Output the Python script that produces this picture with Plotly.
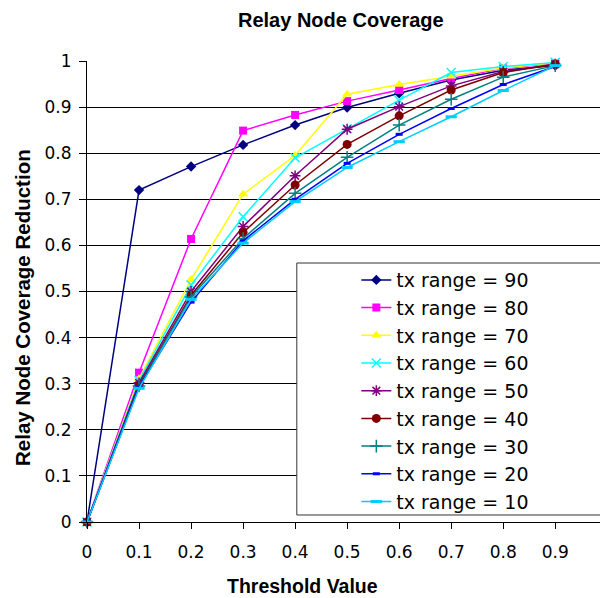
import plotly.graph_objects as go

thresholds = [0, 0.1, 0.2, 0.3, 0.4, 0.5, 0.6, 0.7, 0.8, 0.9]
x_tick_labels = ["0", "0.1", "0.2", "0.3", "0.4", "0.5", "0.6", "0.7", "0.8", "0.9"]
y_tick_vals = [0, 0.1, 0.2, 0.3, 0.4, 0.5, 0.6, 0.7, 0.8, 0.9, 1.0]
y_tick_labels = ["0", "0.1", "0.2", "0.3", "0.4", "0.5", "0.6", "0.7", "0.8", "0.9", "1"]

series_names = ["tx range = 90", "tx range = 80", "tx range = 70", "tx range = 60",
                "tx range = 50", "tx range = 40", "tx range = 30", "tx range = 20",
                "tx range = 10"]

tx90 = [0, 0.720, 0.771, 0.818, 0.861, 0.899, 0.930, 0.959, 0.980, 0.990]
tx80 = [0, 0.324, 0.614, 0.849, 0.883, 0.913, 0.937, 0.962, 0.984, 0.995]
tx70 = [0, 0.311, 0.526, 0.711, 0.795, 0.928, 0.949, 0.967, 0.985, 0.996]
tx60 = [0, 0.307, 0.514, 0.662, 0.790, 0.853, 0.915, 0.975, 0.988, 0.997]
tx50 = [0, 0.302, 0.500, 0.641, 0.751, 0.852, 0.901, 0.946, 0.977, 0.993]
tx40 = [0, 0.297, 0.492, 0.628, 0.731, 0.819, 0.881, 0.937, 0.975, 0.993]
tx30 = [0, 0.295, 0.488, 0.615, 0.713, 0.791, 0.861, 0.917, 0.965, 0.990]
tx20 = [0, 0.293, 0.477, 0.610, 0.700, 0.778, 0.841, 0.897, 0.949, 0.988]
tx10 = [0, 0.290, 0.483, 0.605, 0.695, 0.769, 0.825, 0.879, 0.936, 0.990]

series_values = [tx90, tx80, tx70, tx60, tx50, tx40, tx30, tx20, tx10]

colors = ["#000080", "#FF00FF", "#FFFF00", "#00FFFF", "#800080",
          "#800000", "#008080", "#0000FF", "#00CCFF"]
symbols = ["diamond", "square", "triangle-up", "x-thin", "asterisk",
           "circle", "cross-thin", "line-ew", "line-ew"]
sizes = [8, 8, 9, 9, 9, 9, 9, 5, 8]

FONT = "Liberation Sans, Arial, sans-serif"
WIDE = "DejaVu Sans, Verdana, sans-serif"

fig = go.Figure()
for name, vals, c, s, sz in zip(series_names, series_values, colors, symbols, sizes):
    open_like = s in ("x-thin", "asterisk", "cross-thin", "line-ew")
    marker = dict(symbol=s, size=sz, color=c)
    if open_like:
        marker["line"] = dict(color=c, width=3 if s == "line-ew" else 1.5)
    else:
        marker["line"] = dict(width=0)
    fig.add_trace(go.Scatter(
        x=thresholds, y=vals, name=name, mode="lines+markers",
        line=dict(color=c, width=1.5), marker=marker, cliponaxis=False,
    ))

fig.add_shape(type="rect", xref="paper", yref="paper",
              x0=0.409, x1=1.02, y0=0.0152, y1=0.5618,
              line=dict(color="#333333", width=1), fillcolor="white", layer="above")

fig.update_layout(
    width=600, height=598,
    margin=dict(l=87, r=0, t=61, b=76),
    paper_bgcolor="white", plot_bgcolor="white",
    font=dict(family=FONT, color="black"),
    showlegend=True,
    legend=dict(x=0.525, y=0.566, xanchor="left", yanchor="top",
                bgcolor="rgba(0,0,0,0)", borderwidth=0,
                font=dict(family=WIDE, size=19, color="black"),
                tracegroupgap=0),
    xaxis=dict(range=[0, 0.986], tickvals=thresholds, ticktext=x_tick_labels,
               showgrid=False, zeroline=False, showline=True, linecolor="black",
               linewidth=1, ticks="outside", ticklen=6, tickcolor="black",
               ticklabelstandoff=9,
               tickfont=dict(family=WIDE, size=17, color="black")),
    yaxis=dict(range=[0, 1], tickvals=y_tick_vals, ticktext=y_tick_labels,
               showgrid=True, gridcolor="black", gridwidth=1, zeroline=False,
               showline=True, linecolor="black", linewidth=1,
               ticks="outside", ticklen=7, tickcolor="black",
               ticklabelstandoff=4,
               tickfont=dict(family=WIDE, size=17, color="black")),
    annotations=[
        dict(text="<b>Relay Node Coverage</b>", xref="paper", yref="paper",
             x=0.5, xshift=-3, y=1, yshift=41, xanchor="center", yanchor="middle",
             showarrow=False, font=dict(family=FONT, size=20, color="black")),
        dict(text="<b>Threshold Value</b>", xref="paper", yref="paper",
             x=(302 - 87) / 513, y=0, yshift=-64, xanchor="center", yanchor="middle",
             showarrow=False, font=dict(family=FONT, size=19.5, color="black")),
        dict(text="<b>Relay Node Coverage Reduction</b>", xref="paper", yref="paper",
             x=0, xshift=-65, y=(522 - 308) / 461, xanchor="center", yanchor="middle",
             textangle=-90, showarrow=False,
             font=dict(family=FONT, size=20.5, color="black")),
    ],
)

fig.write_html("out.html", config={"displayModeBar": False},
               post_script="document.body.style.margin='0';document.body.style.overflow='hidden';")
